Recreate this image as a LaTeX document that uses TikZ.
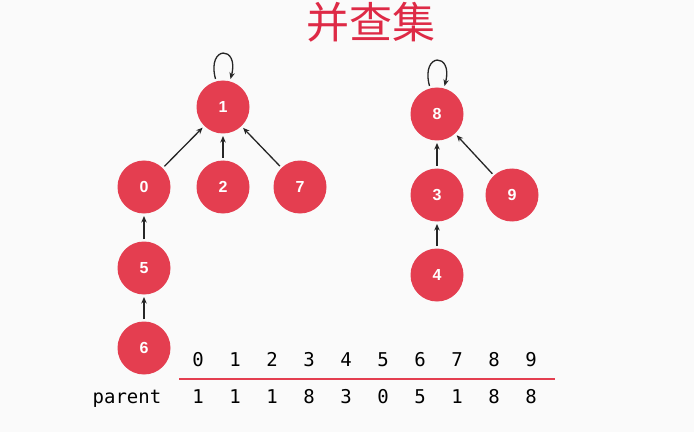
\documentclass[tikz,border=0pt]{standalone}
\usepackage{fontspec}
\usepackage{tikz}
\usetikzlibrary{arrows.meta}
\setsansfont{Liberation Sans}
\newfontfamily\cjk{Noto Sans CJK SC}
\newfontfamily\monofont{DejaVu Sans Mono}
\definecolor{ufred}{RGB}{228,62,80}
\definecolor{titlered}{RGB}{222,42,70}
\definecolor{bggray}{RGB}{250,250,250}

\begin{document}
\begin{tikzpicture}[x=1pt,y=1pt,>={Stealth[length=6.5pt,width=5.5pt]}]
  \tikzset{
    elem/.style={circle,fill=ufred,minimum size=53pt,inner sep=0pt,outer sep=2.5pt,
                 text=white,font=\sffamily\bfseries\fontsize{16}{18}\selectfont},
    link/.style={->,line width=1.3pt,draw=black!85},
    cell/.style={font=\monofont\fontsize{19}{22}\selectfont,inner sep=0pt,anchor=base}
  }
  \fill[bggray] (0,0) rectangle (694,432);
  \useasboundingbox (0,0) rectangle (694,432);

  % 标题
  \node[text=titlered,font=\cjk\fontsize{43}{48}\selectfont] (title) at (370.5,409.5) {并查集};

  % 左边的树：根为 1
  \node[elem] (n1) at (223,325) {1};
  \node[elem] (n0) at (144,245) {0};
  \node[elem] (n2) at (223,245) {2};
  \node[elem] (n7) at (300,245) {7};
  \node[elem] (n5) at (144,164) {5};
  \node[elem] (n6) at (144,84) {6};

  % 右边的树：根为 8
  \node[elem] (n8) at (437,318) {8};
  \node[elem] (n3) at (437,237) {3};
  \node[elem] (n9) at (512,237) {9};
  \node[elem] (n4) at (437,157) {4};

  % 指向父节点
  \draw[link] (n0) -- (n1);
  \draw[link] (n2) -- (n1);
  \draw[link] (n7) -- (n1);
  \draw[link] (n5) -- (n0);
  \draw[link] (n6) -- (n5);
  \draw[link] (n3) -- (n8);
  \draw[link] (n9) -- (n8);
  \draw[link] (n4) -- (n3);
  \draw[link] (n1) to[out=105,in=75,looseness=6] (n1);
  \draw[link] (n8) to[out=105,in=75,looseness=6] (n8);

  % parent 数组
  \node[cell] (parentlabel) at (127,29) {parent};
  \foreach \i/\p in {0/1,1/1,2/1,3/8,4/3,5/0,6/5,7/1,8/8,9/8}{
    \node[cell] (idx\i) at (198+37*\i,66) {\i};
    \node[cell] (par\i) at (198+37*\i,29) {\p};
  }
  \draw[ufred,line width=1.3pt] (179,53) -- (555,53);
\end{tikzpicture}
\end{document}
